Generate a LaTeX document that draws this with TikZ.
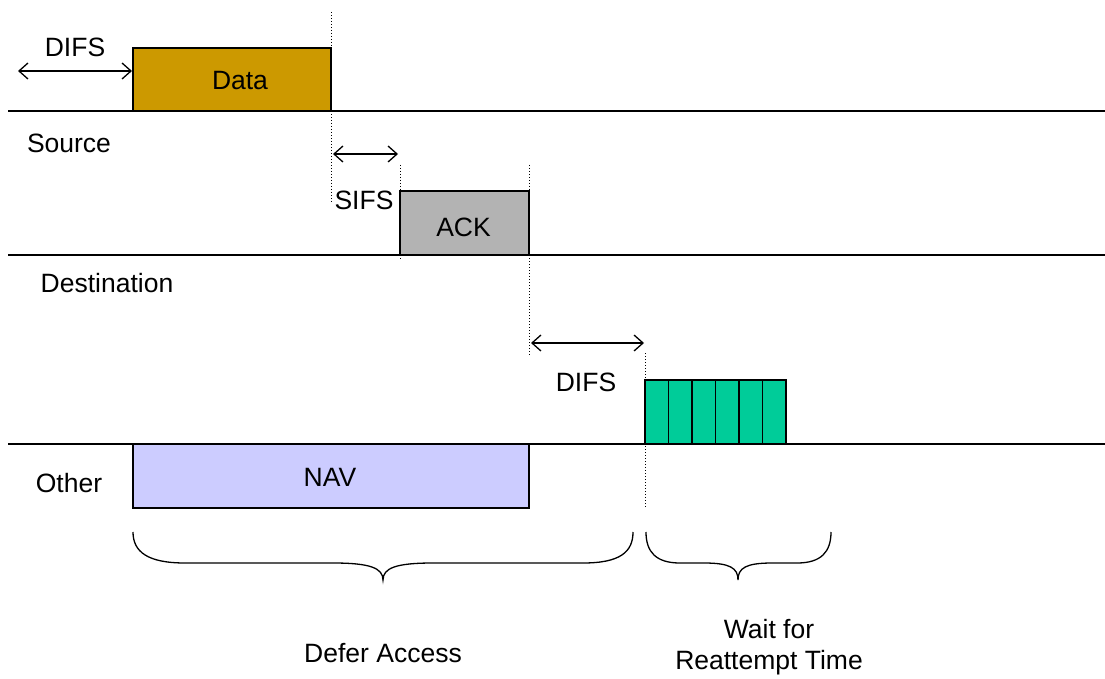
\documentclass[tikz,border=0pt]{standalone}
\usepackage{fontspec}
\setmainfont{Liberation Sans}
\usetikzlibrary{arrows.meta}
\definecolor{datafill}{HTML}{CC9900}
\definecolor{ackfill}{HTML}{B3B3B3}
\definecolor{navfill}{HTML}{CCCCFF}
\definecolor{slotfill}{HTML}{00CC99}
\begin{document}
\begin{tikzpicture}[x=1pt,y=-1pt,
  font=\fontsize{26.5}{31}\selectfont,
  frame/.style={draw=black, line width=1.6pt, inner sep=0pt, outer sep=0pt},
  axis/.style={line width=1.3pt},
  marker/.style={line width=0.9pt, dash pattern=on 1pt off 2pt},
  span/.style={{Straight Barb[length=9pt,width=16pt]}-{Straight Barb[length=9pt,width=16pt]}, line width=1.3pt},
  lbl/.style={inner sep=0pt},
  brace/.style={line width=1.3pt}]
\useasboundingbox (0,0) rectangle (1105,679);

% station time axes
\coordinate (srcA) at (8,111);  \coordinate (srcB) at (1105,111);
\coordinate (dstA) at (8,255);  \coordinate (dstB) at (1105,255);
\coordinate (othA) at (8,444);  \coordinate (othB) at (1105,444);
\draw[axis] (srcA) -- (srcB);
\draw[axis] (dstA) -- (dstB);
\draw[axis] (othA) -- (othB);

% frames on the medium
\node[frame, fill=datafill, minimum width=198pt, minimum height=63pt, anchor=south west] (data) at (133,111) {};
\node[frame, fill=ackfill, minimum width=129pt, minimum height=64pt, anchor=south west] (ack) at (400,255) {};
\node[frame, fill=navfill, minimum width=396pt, minimum height=64pt, anchor=north west] (nav) at (133,444) {};
\foreach \i in {0,...,5}
  \node[frame, fill=slotfill, minimum width=23.5pt, minimum height=64pt, anchor=south west] (slot\i) at (645+\i*23.5,444) {};
\node[lbl] (dataTxt) at ([shift={(8,1.5)}]data.center) {Data};
\node[lbl] (ackTxt) at ([shift={(-1,4)}]ack.center) {ACK};
\node[lbl] (navTxt) at ([shift={(-1,1)}]nav.center) {NAV};

% dotted timing markers
\coordinate (mkA1) at (331,12);  \coordinate (mkA2) at (331,203);
\coordinate (mkB1) at (400,165); \coordinate (mkB2) at (400,260);
\coordinate (mkC1) at (529,165); \coordinate (mkC2) at (529,355);
\coordinate (mkD1) at (645,353); \coordinate (mkD2) at (645,507);
\draw[marker] (mkA1) -- (mkA2);
\draw[marker] (mkB1) -- (mkB2);
\draw[marker] (mkC1) -- (mkC2);
\draw[marker] (mkD1) -- (mkD2);

% interframe spaces
\coordinate (difsA) at (18,71);  \coordinate (difsB) at (132,71);
\coordinate (sifsA) at (333,154); \coordinate (sifsB) at (398,154);
\coordinate (difs2A) at (531,343); \coordinate (difs2B) at (644,343);
\draw[span] (difsA) -- (difsB);
\draw[span] (sifsA) -- (sifsB);
\draw[span] (difs2A) -- (difs2B);

% labels
\node[lbl] (tDifs) at (75,47) {DIFS};
\node[lbl] (tSrc) at (69,143) {Source};
\node[lbl] (tSifs) at (364,200) {SIFS};
\node[lbl] (tDst) at (107,283) {Destination};
\node[lbl] (tDifs2) at (586,382) {DIFS};
\node[lbl] (tOth) at (69,483) {Other};
\node[lbl] (tDefer) at (383,653) {Defer Access};
\node[lbl, align=center] (tWait) at (769,647) {Wait for\\Reattempt Time};

% braces
\draw[brace] (133,532) .. controls (133,552) and (148,563) .. (185,563)
  -- (333,563) .. controls (370,563) and (383,568) .. (383,580)
  .. controls (383,568) and (396,563) .. (433,563)
  -- (583,563) .. controls (620,563) and (633,552) .. (633,532);
\draw[brace] (646,532) .. controls (646,552) and (656,563) .. (680,563)
  -- (704,563) .. controls (730,563) and (738,568) .. (738,580)
  .. controls (738,568) and (746,563) .. (772,563)
  -- (797,563) .. controls (821,563) and (831,552) .. (831,532);
\end{tikzpicture}
\end{document}
